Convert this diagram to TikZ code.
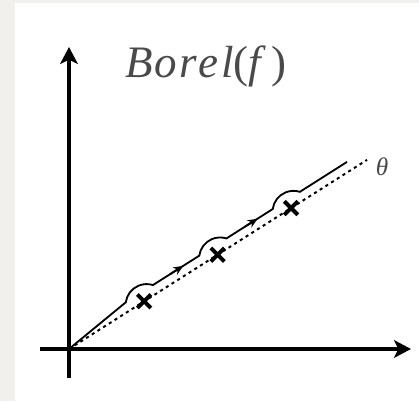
\documentclass[tikz,border=0pt]{standalone}
\usepackage{fontspec}
\setmainfont{Liberation Serif}[ItalicFont={Liberation Serif Italic}]
\usepackage{xcolor}
\usetikzlibrary{arrows.meta,shapes.misc}

\definecolor{paper}{HTML}{F2F0EC}
\definecolor{inkgray}{HTML}{4A4A4A}

\tikzset{
  axis/.style={line width=2.3pt,->},
  ray/.style={line width=1.4pt,dash pattern=on 2.2pt off 2.6pt},
  contour/.style={line width=1.3pt},
  flowtip/.style={contour,-{Stealth[length=7pt,width=6pt]}},
  polemark/.style={cross out,draw,line width=2.8pt,minimum size=0.24cm,inner sep=0pt},
}

\begin{document}
\begin{tikzpicture}[x=0.025cm,y=0.025cm,>={Stealth[length=12pt,width=12.5pt,inset=3pt]}]
  % paper and white sheet
  \fill[paper] (-69,-52) rectangle (350,349);
  \fill[white] (-54,-52) rectangle (350,346);
  \useasboundingbox (-69,-52) rectangle (350,349);
  % axes
  \coordinate (o) at (0,0);
  \coordinate (xl) at (-29,0);
  \coordinate (xr) at (342,0);
  \coordinate (yb) at (0,-29);
  \coordinate (yt) at (0,302);
  \draw[axis] (xl) -- (xr);
  \draw[axis] (yb) -- (yt);
  % the ray, the poles and the contour above them
  \begin{scope}[rotate=32.4]
    \coordinate (tend) at (353,0);
    \coordinate (cend) at (335,9);
    \draw[ray] (o) -- (tend);
    \node[polemark] (p1) at (89,0) {};
    \node[polemark] (p2) at (176,0) {};
    \node[polemark] (p3) at (263,0) {};
    \draw[contour] (o) -- (73,9) arc[start angle=140,end angle=40,radius=21]
      -- (160,9) arc[start angle=140,end angle=40,radius=21]
      -- (247,9) arc[start angle=140,end angle=40,radius=21] -- (cend);
    \draw[flowtip] (126,9) -- (141,9);
    \draw[flowtip] (214,9) -- (229,9);
  \end{scope}
  % labels
  \node[text=inkgray,inner sep=0pt,font=\fontsize{18}{21}\selectfont\itshape]
    (theta) at (313,182) {θ};
  \node[text=inkgray,anchor=base,inner sep=0pt,font=\fontsize{32}{36}\selectfont]
    (borel) at (137,271) {\textit{B\kern1.5pt o\kern1.5pt r\kern1.5pt e\kern1.5pt l}(\textit{f}\kern4pt)};
\end{tikzpicture}
\end{document}
